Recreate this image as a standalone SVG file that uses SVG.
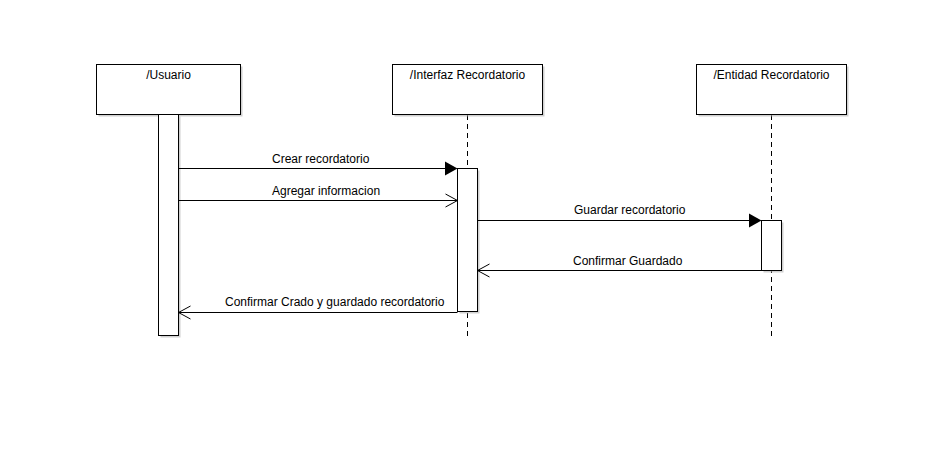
<svg xmlns="http://www.w3.org/2000/svg" width="942" height="464" viewBox="0 0 942 464">
<style>
.box{fill:#fff;stroke:#000;stroke-width:1}
.sh{fill:#b0b0b0;stroke:none;opacity:0.6}
.life{stroke:#000;stroke-width:1;stroke-dasharray:5,4;fill:none}
.msg{stroke:#000;stroke-width:1;fill:none}
.open{stroke:#000;stroke-width:1;fill:none}
.fill{fill:#000;stroke:none}
text{font-family:"Liberation Sans",Arial,sans-serif;font-size:12px;fill:#000}
</style>
<rect width="942" height="464" fill="#fff"/>
<g id="lifelines">
<line class="life" x1="467.5" y1="115" x2="467.5" y2="336"/>
<line class="life" x1="771.5" y1="115" x2="771.5" y2="336"/>
</g>
<g id="usuario">
<rect class="sh" x="98.5" y="66.5" width="144" height="50"/>
<rect class="box" x="96.5" y="64.5" width="144" height="50"/>
<text x="168.5" y="78.5" text-anchor="middle">/Usuario</text>
<rect class="sh" x="160.5" y="116.5" width="20" height="221"/>
<rect class="box" x="158.5" y="114.5" width="20" height="221"/>
</g>
<g id="interfaz">
<rect class="sh" x="394.5" y="66.5" width="150" height="50"/>
<rect class="box" x="392.5" y="64.5" width="150" height="50"/>
<text x="467.5" y="78.5" text-anchor="middle">/Interfaz Recordatorio</text>
<rect class="sh" x="459.5" y="170.5" width="20" height="143"/>
<rect class="box" x="457.5" y="168.5" width="20" height="143"/>
</g>
<g id="entidad">
<rect class="sh" x="698.5" y="66.5" width="150" height="50"/>
<rect class="box" x="696.5" y="64.5" width="150" height="50"/>
<text x="771.5" y="78.5" text-anchor="middle">/Entidad Recordatorio</text>
<rect class="sh" x="763.5" y="222.5" width="20" height="50"/>
<rect class="box" x="761.5" y="220.5" width="20" height="50"/>
</g>
<g id="connectors">
<line class="msg" x1="178.5" y1="168.5" x2="446" y2="168.5"/>
<polygon class="fill" points="445,161.5 457.5,168.5 445,175.5"/>
<text x="272" y="163">Crear recordatorio</text>
<line class="msg" x1="178.5" y1="200.5" x2="457.5" y2="200.5"/>
<polyline class="open" points="445.5,194 457.5,200.5 445.5,207"/>
<text x="272" y="195">Agregar informacion</text>
<line class="msg" x1="477.5" y1="220.5" x2="750" y2="220.5"/>
<polygon class="fill" points="749,213.5 761.5,220.5 749,227.5"/>
<text x="574" y="214">Guardar recordatorio</text>
<line class="msg" x1="761.5" y1="270.5" x2="477.5" y2="270.5"/>
<polyline class="open" points="489.5,264 477.5,270.5 489.5,277"/>
<text x="573" y="265">Confirmar Guardado</text>
<line class="msg" x1="457.5" y1="312.5" x2="178.5" y2="312.5"/>
<polyline class="open" points="190.5,306 178.5,312.5 190.5,319"/>
<text x="225" y="305.5">Confirmar Crado y guardado recordatorio</text>
</g>
</svg>
